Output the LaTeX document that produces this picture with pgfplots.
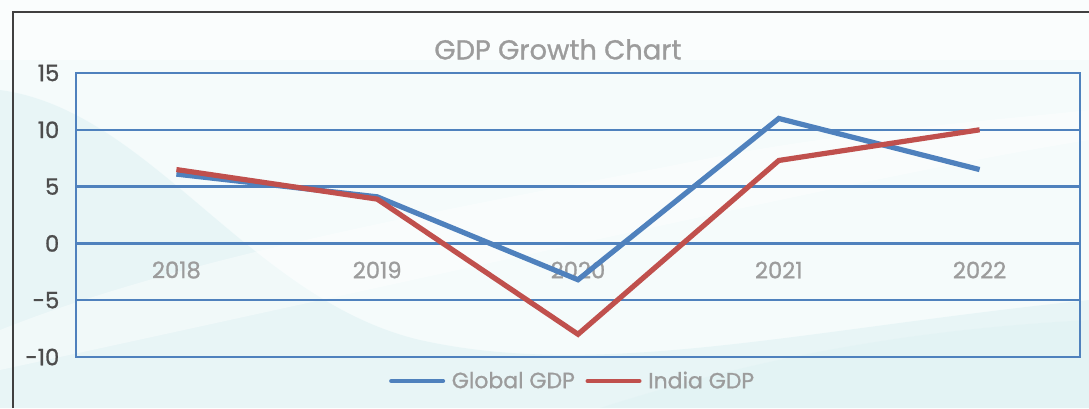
\documentclass[border=0pt]{standalone}
\usepackage{pgfplots}
\pgfplotsset{compat=1.18}
\usepackage{fontspec}
\setmainfont{Poppins}[FakeBold=1]
\definecolor{gblue}{HTML}{4F81BD}
\definecolor{gred}{HTML}{C0504D}
\definecolor{tgray}{HTML}{9C9C9C}
\definecolor{dgray}{HTML}{4D4D4D}
\definecolor{bgA}{HTML}{F5FBFB}
\definecolor{bgB}{HTML}{DCF1F3}
\begin{document}
\begin{tikzpicture}
% background (pixel units, y downward)
\begin{scope}[x=0.75pt,y=-0.75pt]
\path[use as bounding box] (0,0) rectangle (1089,408);
\fill[bgA] (0,0) rectangle (1089,408);
\fill[bgB,opacity=0.5] (0,90) .. controls (150,110) and (250,300) .. (420,340) .. controls (600,380) and (800,330) .. (1089,300) -- (1089,408) -- (0,408) -- cycle;
\fill[white,opacity=0.4] (0,330) .. controls (200,250) and (500,200) .. (700,160) .. controls (850,130) and (1000,120) .. (1089,110) -- (1089,140) .. controls (900,170) and (600,240) .. (0,370) -- cycle;
\fill[white,opacity=0.5] (0,0) rectangle (1089,60);
\fill[bgB,opacity=0.35] (600,408) .. controls (750,360) and (900,330) .. (1089,320) -- (1089,408) -- cycle;
\draw[color=black!75,line width=1.2pt] (13,408) -- (13,12) -- (1089,12);
\end{scope}
\begin{axis}[
  at={(57pt,-54.75pt)}, anchor=north west,
  width=753pt, height=213pt, scale only axis,
  xmin=-0.5, xmax=4.5, ymin=-10, ymax=15,
  xtick={0,1,2,3,4},
  xticklabels={2018,2019,2020,2021,2022},
  ytick={-10,-5,0,5,10,15},
  yticklabels={\mbox{-10},\mbox{-5},\mbox{0},\mbox{5},\mbox{10},\mbox{15}},
  major tick length=0pt,
  axis line style={gblue,line width=1.8pt},
  ymajorgrids, grid style={gblue,line width=1.8pt},
  xticklabel style={anchor=center,yshift=65.25pt,font=\fontsize{17}{19}\selectfont,text=tgray},
  yticklabel style={anchor=east,xshift=-9pt,font=\fontsize{17}{19}\selectfont,text=dgray},
  title={GDP Growth Chart},
  title style={at={(0.48,1.055)},anchor=center,font=\fontsize{20.5}{23}\selectfont,text=tgray},
  legend columns=2,
  legend style={at={(0.495,-0.0845)},anchor=center,draw=none,fill=none,
    font=\fontsize{16.5}{18}\selectfont,text=tgray,
    /tikz/every even column/.append style={column sep=6pt},
    /tikz/every odd column/.append style={column sep=3pt}},
  legend image code/.code={\draw[#1,line cap=round,line width=3pt] (0pt,0pt) -- (39pt,0pt);},
  clip=false,
]
\addplot[gblue,line width=3.9pt] coordinates {(0,6.1) (1,4.1) (2,-3.2) (3,11.0) (4,6.5)};
\addlegendentry{Global GDP}
\addplot[gred,line width=3.9pt] coordinates {(0,6.5) (1,3.9) (2,-8.0) (3,7.3) (4,10.0)};
\addlegendentry{India GDP}
\end{axis}
\end{tikzpicture}
\end{document}
